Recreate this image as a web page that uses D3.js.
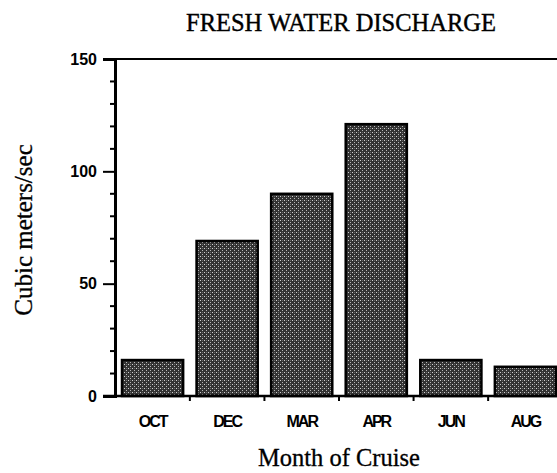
<!DOCTYPE html>
<html>
<head>
    <meta charset="utf-8">
    <style>
        body { margin: 0; background: #fff; }
    </style>
</head>
<body>
    <script src="https://cdn.jsdelivr.net/npm/d3@7"></script>
    <script>
        var months = ["OCT", "DEC", "MAR", "APR", "JUN", "AUG"];
        var discharge = [16, 69, 90, 121, 16, 13];
        var majorTicks = [0, 50, 100, 150];
        var minorTicks = [10, 20, 30, 40, 60, 70, 80, 90, 110, 120, 130, 140];

        var width = 557, height = 473;
        var margin = { left: 115, top: 59, right: -6, bottom: 77 };
        var plotBottom = height - margin.bottom;

        var data = months.map(function (m, i) {
            return { month: m, value: discharge[i] };
        });

        var svg = d3.select("body").append("svg")
            .attr("width", width)
            .attr("height", height);

        // stipple fill like the scanned halftone
        var defs = svg.append("defs");
        var pat = defs.append("pattern")
            .attr("id", "stipple")
            .attr("patternUnits", "userSpaceOnUse")
            .attr("width", 4)
            .attr("height", 4);
        pat.append("rect").attr("width", 4).attr("height", 4).attr("fill", "#333");
        pat.append("rect").attr("x", 0).attr("y", 0).attr("width", 1).attr("height", 1).attr("fill", "#d0d0d0");
        pat.append("rect").attr("x", 2).attr("y", 2).attr("width", 1).attr("height", 1).attr("fill", "#b8b8b8");
        pat.append("rect").attr("x", 2).attr("y", 0).attr("width", 1).attr("height", 1).attr("fill", "#666");

        var x = d3.scaleBand()
            .domain(months)
            .range([margin.left, width - margin.right])
            .paddingInner(0.18)
            .paddingOuter(0.094);

        var y = d3.scaleLinear()
            .domain([0, 150])
            .range([plotBottom, margin.top]);

        // bars
        svg.append("g")
            .selectAll("rect")
            .data(data)
            .enter()
            .append("rect")
            .attr("x", function (d) { return x(d.month); })
            .attr("y", function (d) { return y(d.value); })
            .attr("width", x.bandwidth())
            .attr("height", function (d) { return plotBottom - y(d.value); })
            .attr("fill", "url(#stipple)")
            .attr("stroke", "#000")
            .attr("stroke-width", 2.5);

        // top frame line
        svg.append("line")
            .attr("x1", margin.left - 12).attr("x2", width)
            .attr("y1", y(150)).attr("y2", y(150))
            .attr("stroke", "#000").attr("stroke-width", 2);

        // y axis, major ticks with labels
        var yAxis = d3.axisLeft(y).tickValues(majorTicks).tickSize(12).tickPadding(6);
        var yAxisNodes = svg.append("g")
            .attr("transform", "translate(" + margin.left + ",0)")
            .call(yAxis);
        styleAxisNodes(yAxisNodes, 3);
        yAxisNodes.selectAll("text")
            .attr("font-family", "'Liberation Sans', Arial, sans-serif")
            .attr("font-weight", "bold")
            .attr("font-size", 16)
            .attr("fill", "#000");

        // y minor ticks
        svg.append("g")
            .selectAll("line")
            .data(minorTicks)
            .enter()
            .append("line")
            .attr("x1", margin.left - 5).attr("x2", margin.left + 2)
            .attr("y1", function (d) { return y(d); })
            .attr("y2", function (d) { return y(d); })
            .attr("stroke", "#000").attr("stroke-width", 2);

        // x axis with labels under bars
        var xAxis = d3.axisBottom(x).tickSize(0).tickPadding(20);
        var xAxisNodes = svg.append("g")
            .attr("transform", "translate(0," + plotBottom + ")")
            .call(xAxis);
        xAxisNodes.select(".domain").remove();
        xAxisNodes.selectAll("text")
            .attr("font-family", "'Liberation Sans', Arial, sans-serif")
            .attr("font-weight", "bold")
            .attr("font-size", 16)
            .attr("letter-spacing", -2)
            .attr("fill", "#000");

        svg.append("line")
            .attr("x1", margin.left - 12).attr("x2", width)
            .attr("y1", plotBottom).attr("y2", plotBottom)
            .attr("stroke", "#000").attr("stroke-width", 2.5);

        // small separator ticks between bars
        var gap = x.step() * x.paddingInner() / 2;
        svg.append("g")
            .selectAll("line")
            .data(months.slice(0, -1))
            .enter()
            .append("line")
            .attr("x1", function (d) { return x(d) + x.bandwidth() + gap; })
            .attr("x2", function (d) { return x(d) + x.bandwidth() + gap; })
            .attr("y1", plotBottom).attr("y2", plotBottom + 5)
            .attr("stroke", "#000").attr("stroke-width", 2);

        // titles
        var serif = "'Liberation Serif', 'Times New Roman', serif";
        svg.append("text")
            .attr("x", 341)
            .attr("y", 31)
            .attr("text-anchor", "middle")
            .attr("font-family", serif)
            .attr("font-size", 24.5)
            .attr("stroke", "#000").attr("stroke-width", 0.4)
            .text("FRESH WATER DISCHARGE");

        svg.append("text")
            .attr("x", 339)
            .attr("y", 466)
            .attr("text-anchor", "middle")
            .attr("font-family", serif)
            .attr("font-size", 24.5)
            .attr("stroke", "#000").attr("stroke-width", 0.3)
            .text("Month of Cruise");

        svg.append("text")
            .attr("transform", "translate(32,230) rotate(-90)")
            .attr("text-anchor", "middle")
            .attr("font-family", serif)
            .attr("font-size", 25)
            .attr("stroke", "#000").attr("stroke-width", 0.3)
            .text("Cubic meters/sec");

        function styleAxisNodes(axisNodes, w) {
            axisNodes.selectAll(".domain")
                .attr("fill", "none")
                .attr("stroke-width", w)
                .attr("stroke", "black");
            axisNodes.selectAll(".tick line")
                .attr("fill", "none")
                .attr("stroke-width", 2)
                .attr("stroke", "black");
        }
    </script>
</body>
</html>
